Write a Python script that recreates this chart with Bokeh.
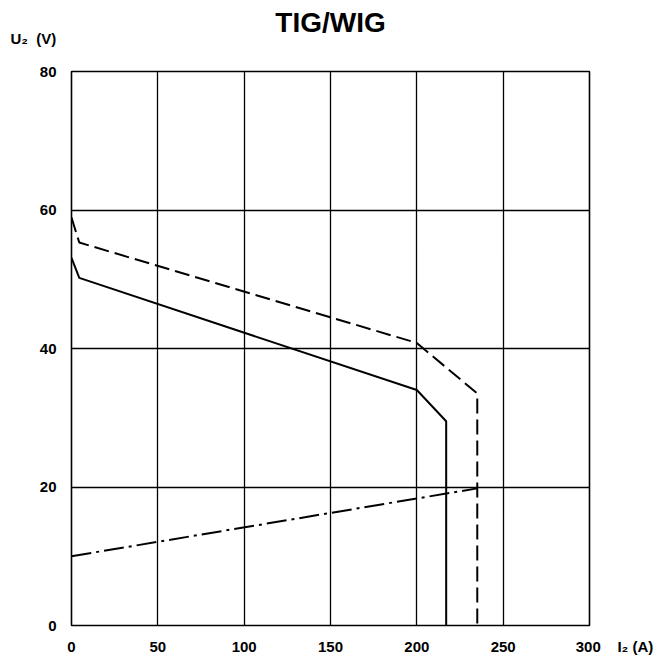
from bokeh.plotting import figure
from bokeh.models import Title, FixedTicker, Range1d
from bokeh.embed import file_html
from bokeh.resources import INLINE

# ---- data ----
x_ticks = [0, 50, 100, 150, 200, 250, 300]
y_ticks = [0, 20, 40, 60, 80]
x_grid = [50, 100, 150, 200, 250]
y_grid = [20, 40, 60]
x_caption = "I\u2082\u00a0(A)"
y_caption = "U\u2082\u00a0\u00a0(V)"
chart_title = "TIG/WIG"

upper_I = [0, 4.5, 200, 235, 235]          # dashed characteristic
upper_U = [58.9, 55.3, 40.8, 33.5, 0]
lower_I = [0, 4.5, 200, 217, 217]          # solid characteristic
lower_U = [53.1, 50.2, 34.0, 29.5, 0]
load_I = [0, 235]                          # dash-dot load line
load_U = [10, 19.8]

W, H = 660, 657
p = figure(width=W, height=H, output_backend="svg", toolbar_location=None,
           x_range=Range1d(0, 300), y_range=Range1d(0, 80),
           min_border_left=71, min_border_right=W - 589, min_border_top=71,
           min_border_bottom=H - 625)
p.background_fill_color = "white"
p.border_fill_color = "white"
p.outline_line_color = "black"
p.outline_line_width = 1.6

for ax in (p.xaxis[0], p.yaxis[0]):
    ax.axis_line_color = None
    ax.major_tick_line_color = None
    ax.minor_tick_line_color = None
    ax.major_label_text_font = "Liberation Sans"
    ax.major_label_text_font_style = "bold"
    ax.major_label_text_font_size = "15px"
    ax.major_label_text_color = "black"
p.xaxis.ticker = FixedTicker(ticks=x_ticks)
p.yaxis.ticker = FixedTicker(ticks=y_ticks)
p.xaxis.major_label_standoff = 6
p.yaxis.major_label_standoff = 9
# the x caption sits just right of the last tick label; pad with no-break
# spaces on the left so that "300" itself stays centred on its tick
NB = "\u00a0"
p.xaxis.major_label_overrides = {300: NB * 12 + "300" + NB * 4 + x_caption}

p.xgrid.ticker = FixedTicker(ticks=x_grid)
p.ygrid.ticker = FixedTicker(ticks=y_grid)
for g in (p.xgrid[0], p.ygrid[0]):
    g.grid_line_color = "black"
    g.grid_line_width = 1.3
    g.grid_line_alpha = 1.0

p.line(upper_I, upper_U, line_color="black", line_width=2, line_dash="15 6")
p.line(lower_I, lower_U, line_color="black", line_width=2)
p.line(load_I, load_U, line_color="black", line_width=2, line_dash="20 5 3 5")

# main title (outermost)
p.title.text = chart_title
p.title.align = "center"
p.title.text_font = "Liberation Sans"
p.title.text_font_style = "bold"
p.title.text_font_size = "28px"
p.title.text_color = "black"
p.title.standoff = -70

# y axis caption (next to the frame)
p.add_layout(Title(text=y_caption, align="left", offset=-61,
                   text_font="Liberation Sans", text_font_style="bold",
                   text_font_size="15px", text_color="black", standoff=50), "above")

open("out.html", "w").write(file_html(p, INLINE))
